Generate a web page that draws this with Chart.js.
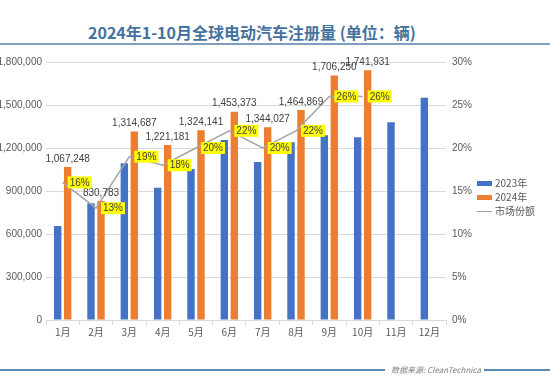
<!DOCTYPE html>
<html><head><meta charset="utf-8">
<script src="https://cdn.jsdelivr.net/npm/chart.js@4.4.1/dist/chart.umd.min.js"></script>
<style>
html,body{margin:0;padding:0;background:#fff;}
#wrap{position:relative;width:550px;height:378px;overflow:hidden;font-family:"Liberation Sans","Noto Sans CJK SC",sans-serif;}
#title{position:absolute;left:88px;top:21px;white-space:nowrap;font-family:"Noto Sans CJK SC","Liberation Sans",sans-serif;font-weight:bold;font-size:16px;line-height:22px;color:#44729e;}
#rule{position:absolute;left:0;top:43px;width:550px;height:2px;background:#7f9fc0;}
#cv{position:absolute;left:0;top:0;}
.leg{position:absolute;left:477px;font-size:10px;color:#595959;font-family:"Noto Sans CJK SC","Liberation Sans",sans-serif;line-height:12px;height:12px;}
.sw{display:inline-block;width:15px;height:5px;vertical-align:middle;margin-right:3px;margin-top:-2px;}
.ln{display:inline-block;width:15px;height:1.5px;background:#a5a5a5;vertical-align:middle;margin-right:3px;margin-top:-2px;}
#foot{position:absolute;left:391px;top:363px;font-size:8px;font-style:italic;color:#7f7f7f;font-family:"Noto Sans CJK SC","Liberation Sans",sans-serif;line-height:14px;white-space:nowrap;}
.fl{position:absolute;top:369px;height:1.5px;background:#5b8bb8;}
</style></head>
<body><div id="wrap">
<div id="title">2024年1-10月全球电动汽车注册量 (单位：辆)</div>
<div id="rule"></div>
<canvas id="cv" width="550" height="378"></canvas>
<div class="leg" style="top:177px"><span class="sw" style="background:#4472c4"></span>2023年</div>
<div class="leg" style="top:191px"><span class="sw" style="background:#ed7d31"></span>2024年</div>
<div class="leg" style="top:205px"><span class="ln"></span>市场份额</div>
<div class="fl" style="left:0;width:385px"></div>
<div id="foot">数据来源: CleanTechnica</div>
<div class="fl" style="left:484px;width:66px"></div>
</div>
<script>
const months = ["1月","2月","3月","4月","5月","6月","7月","8月","9月","10月","11月","12月"];
const sales2023 = [656000, 814000, 1093000, 923000, 1053000, 1256000, 1102000, 1240000, 1289000, 1275000, 1379000, 1551000];
const sales2024 = [1067248, 830783, 1314687, 1221181, 1324141, 1453373, 1344027, 1464869, 1706250, 1741931, null, null];
const marketShare = [16, 13, 19, 18, 20, 22, 20, 22, 26, 26, null, null];
const leftTicks = [0, 300000, 600000, 900000, 1200000, 1500000, 1800000];
const rightTicks = [0, 5, 10, 15, 20, 25, 30];

const labelPlugin = {
  id: 'labels',
  afterDatasetsDraw(chart) {
    const ctx = chart.ctx;
    ctx.save();
    const m1 = chart.getDatasetMeta(1);
    ctx.font = '10px "Liberation Sans", sans-serif';
    ctx.fillStyle = '#404040';
    ctx.textAlign = 'center';
    ctx.textBaseline = 'bottom';
    m1.data.forEach((el, i) => {
      if (sales2024[i] == null) return;
      ctx.fillText(sales2024[i].toLocaleString('en-US'), el.x, el.y - 3);
    });
    const m2 = chart.getDatasetMeta(2);
    ctx.textAlign = 'left';
    ctx.textBaseline = 'middle';
    m2.data.forEach((el, i) => {
      if (marketShare[i] == null) return;
      const t = marketShare[i] + '%';
      const w = ctx.measureText(t).width;
      const x0 = el.x + 5, y0 = el.y;
      ctx.fillStyle = '#ffff00';
      ctx.fillRect(x0, y0 - 6, w + 4, 12);
      ctx.fillStyle = '#404040';
      ctx.fillText(t, x0 + 2, y0 + 0.5);
    });
    ctx.restore();
  }
};

const tickFont = {family: '"Liberation Sans", sans-serif', size: 10};
new Chart(document.getElementById('cv'), {
  data: {
    labels: months,
    datasets: [
      {type:'bar', label:'2023年', data: sales2023, backgroundColor:'#4472c4', yAxisID:'y', categoryPercentage:0.6, barPercentage:0.74, order:2},
      {type:'bar', label:'2024年', data: sales2024, backgroundColor:'#ed7d31', yAxisID:'y', categoryPercentage:0.6, barPercentage:0.74, order:2},
      {type:'line', label:'市场份额', data: marketShare, borderColor:'#a5a5a5', borderWidth:1.5, pointRadius:0, tension:0, yAxisID:'y1', order:1}
    ]
  },
  options: {
    responsive:false, animation:false, devicePixelRatio:1,
    layout:{padding:{left:0, right:70, top:62, bottom:38}},
    plugins:{legend:{display:false}, tooltip:{enabled:false}},
    scales:{
      x:{
        grid:{display:true, drawOnChartArea:false, drawTicks:true, tickLength:5, offset:true, color:'#d9d9d9'},
        border:{display:true, color:'#d9d9d9'},
        ticks:{font:{family:'"Noto Sans CJK SC", sans-serif', size:10}, color:'#595959', padding:1, maxRotation:0, autoSkip:false},
        afterFit(s){ s.height = 20; }
      },
      y:{
        position:'left', min:0, max:1800000,
        afterBuildTicks(s){ s.ticks = leftTicks.map(v=>({value:v})); },
        grid:{color:'#d9d9d9', drawTicks:false},
        border:{display:false},
        ticks:{font:tickFont, color:'#595959', padding:4, callback:v=>v.toLocaleString('en-US')},
        afterFit(s){ s.width = 46; }
      },
      y1:{
        position:'right', min:0, max:30,
        afterBuildTicks(s){ s.ticks = rightTicks.map(v=>({value:v})); },
        grid:{display:false, drawTicks:false},
        border:{display:false},
        ticks:{font:tickFont, color:'#595959', padding:6, callback:v=>v+'%'},
        afterFit(s){ s.width = 34; }
      }
    }
  },
  plugins:[labelPlugin]
});
</script>
</body></html>
